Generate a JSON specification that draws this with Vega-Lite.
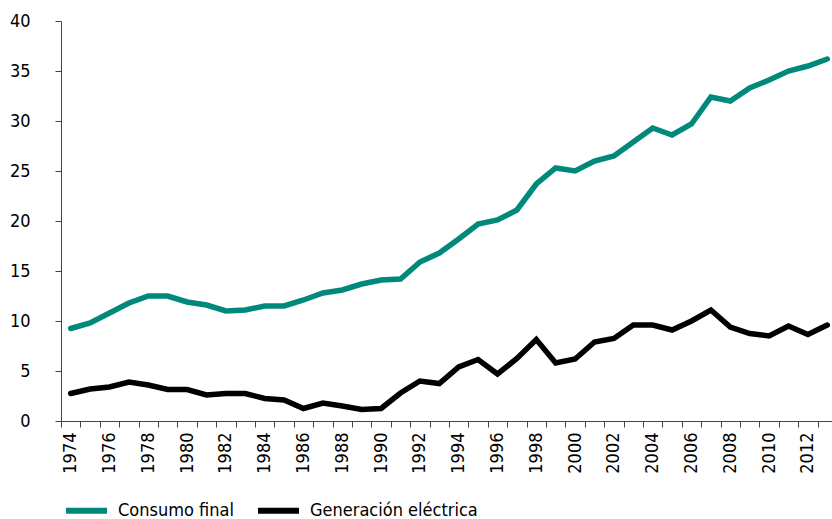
{
  "$schema": "https://vega.github.io/schema/vega-lite/v6.json",
  "width": 776,
  "height": 400,
  "autosize": {"type": "none"},
  "padding": {"left": 61, "top": 21, "right": 0, "bottom": 98},
  "background": "white",
  "config": {
    "view": {"stroke": null},
    "font": "Liberation Sans Narrow, DejaVu Sans Condensed, Liberation Sans, sans-serif"
  },
  "data": {"values": [
    {"year": 1974, "serie": "Consumo final", "value": 9.25},
    {"year": 1975, "serie": "Consumo final", "value": 9.8},
    {"year": 1976, "serie": "Consumo final", "value": 10.8},
    {"year": 1977, "serie": "Consumo final", "value": 11.8},
    {"year": 1978, "serie": "Consumo final", "value": 12.5},
    {"year": 1979, "serie": "Consumo final", "value": 12.5},
    {"year": 1980, "serie": "Consumo final", "value": 11.9},
    {"year": 1981, "serie": "Consumo final", "value": 11.6},
    {"year": 1982, "serie": "Consumo final", "value": 11.0},
    {"year": 1983, "serie": "Consumo final", "value": 11.1},
    {"year": 1984, "serie": "Consumo final", "value": 11.5},
    {"year": 1985, "serie": "Consumo final", "value": 11.5},
    {"year": 1986, "serie": "Consumo final", "value": 12.1},
    {"year": 1987, "serie": "Consumo final", "value": 12.8},
    {"year": 1988, "serie": "Consumo final", "value": 13.1},
    {"year": 1989, "serie": "Consumo final", "value": 13.7},
    {"year": 1990, "serie": "Consumo final", "value": 14.1},
    {"year": 1991, "serie": "Consumo final", "value": 14.2},
    {"year": 1992, "serie": "Consumo final", "value": 15.9},
    {"year": 1993, "serie": "Consumo final", "value": 16.8},
    {"year": 1994, "serie": "Consumo final", "value": 18.2},
    {"year": 1995, "serie": "Consumo final", "value": 19.7},
    {"year": 1996, "serie": "Consumo final", "value": 20.1},
    {"year": 1997, "serie": "Consumo final", "value": 21.1},
    {"year": 1998, "serie": "Consumo final", "value": 23.7},
    {"year": 1999, "serie": "Consumo final", "value": 25.3},
    {"year": 2000, "serie": "Consumo final", "value": 25.0},
    {"year": 2001, "serie": "Consumo final", "value": 26.0},
    {"year": 2002, "serie": "Consumo final", "value": 26.5},
    {"year": 2003, "serie": "Consumo final", "value": 27.9},
    {"year": 2004, "serie": "Consumo final", "value": 29.3},
    {"year": 2005, "serie": "Consumo final", "value": 28.6},
    {"year": 2006, "serie": "Consumo final", "value": 29.7},
    {"year": 2007, "serie": "Consumo final", "value": 32.4},
    {"year": 2008, "serie": "Consumo final", "value": 32.0},
    {"year": 2009, "serie": "Consumo final", "value": 33.3},
    {"year": 2010, "serie": "Consumo final", "value": 34.1},
    {"year": 2011, "serie": "Consumo final", "value": 35.0},
    {"year": 2012, "serie": "Consumo final", "value": 35.5},
    {"year": 2013, "serie": "Consumo final", "value": 36.2},
    {"year": 1974, "serie": "Generación eléctrica", "value": 2.75},
    {"year": 1975, "serie": "Generación eléctrica", "value": 3.2},
    {"year": 1976, "serie": "Generación eléctrica", "value": 3.4},
    {"year": 1977, "serie": "Generación eléctrica", "value": 3.9},
    {"year": 1978, "serie": "Generación eléctrica", "value": 3.6},
    {"year": 1979, "serie": "Generación eléctrica", "value": 3.15},
    {"year": 1980, "serie": "Generación eléctrica", "value": 3.15},
    {"year": 1981, "serie": "Generación eléctrica", "value": 2.6},
    {"year": 1982, "serie": "Generación eléctrica", "value": 2.75},
    {"year": 1983, "serie": "Generación eléctrica", "value": 2.75},
    {"year": 1984, "serie": "Generación eléctrica", "value": 2.25},
    {"year": 1985, "serie": "Generación eléctrica", "value": 2.1},
    {"year": 1986, "serie": "Generación eléctrica", "value": 1.25},
    {"year": 1987, "serie": "Generación eléctrica", "value": 1.8},
    {"year": 1988, "serie": "Generación eléctrica", "value": 1.5},
    {"year": 1989, "serie": "Generación eléctrica", "value": 1.15},
    {"year": 1990, "serie": "Generación eléctrica", "value": 1.25},
    {"year": 1991, "serie": "Generación eléctrica", "value": 2.8},
    {"year": 1992, "serie": "Generación eléctrica", "value": 4.0},
    {"year": 1993, "serie": "Generación eléctrica", "value": 3.75},
    {"year": 1994, "serie": "Generación eléctrica", "value": 5.4},
    {"year": 1995, "serie": "Generación eléctrica", "value": 6.15},
    {"year": 1996, "serie": "Generación eléctrica", "value": 4.7},
    {"year": 1997, "serie": "Generación eléctrica", "value": 6.25},
    {"year": 1998, "serie": "Generación eléctrica", "value": 8.15},
    {"year": 1999, "serie": "Generación eléctrica", "value": 5.8},
    {"year": 2000, "serie": "Generación eléctrica", "value": 6.2},
    {"year": 2001, "serie": "Generación eléctrica", "value": 7.9},
    {"year": 2002, "serie": "Generación eléctrica", "value": 8.25},
    {"year": 2003, "serie": "Generación eléctrica", "value": 9.6},
    {"year": 2004, "serie": "Generación eléctrica", "value": 9.6},
    {"year": 2005, "serie": "Generación eléctrica", "value": 9.1},
    {"year": 2006, "serie": "Generación eléctrica", "value": 10.0},
    {"year": 2007, "serie": "Generación eléctrica", "value": 11.1},
    {"year": 2008, "serie": "Generación eléctrica", "value": 9.4},
    {"year": 2009, "serie": "Generación eléctrica", "value": 8.75},
    {"year": 2010, "serie": "Generación eléctrica", "value": 8.5},
    {"year": 2011, "serie": "Generación eléctrica", "value": 9.5},
    {"year": 2012, "serie": "Generación eléctrica", "value": 8.65},
    {"year": 2013, "serie": "Generación eléctrica", "value": 9.6}
  ]},
  "mark": {"type": "line", "strokeWidth": 5.5, "strokeCap": "round", "strokeJoin": "miter"},
  "encoding": {
    "x": {
      "field": "year",
      "type": "ordinal",
      "bandPosition": 0.5,
      "scale": {"type": "band", "paddingInner": 0, "paddingOuter": 0},
      "axis": {
        "title": null,
        "tickBand": "extent",
        "labelExpr": "datum.value % 2 == 0 ? datum.label : ''",
        "labelAngle": 270,
        "labelAlign": "right",
        "labelBaseline": "middle",
        "labelFontSize": 18,
        "labelColor": "#000000",
        "labelPadding": 5,
        "tickSize": 6,
        "tickColor": "#444444",
        "domainColor": "#444444",
        "labelOverlap": false
      }
    },
    "y": {
      "field": "value",
      "type": "quantitative",
      "scale": {"domain": [0, 40], "nice": false},
      "axis": {
        "title": null,
        "values": [0, 5, 10, 15, 20, 25, 30, 35, 40],
        "grid": false,
        "labelFontSize": 18,
        "labelColor": "#000000",
        "labelPadding": 25,
        "tickSize": 6,
        "tickColor": "#444444",
        "domainColor": "#444444"
      }
    },
    "color": {
      "field": "serie",
      "type": "nominal",
      "scale": {"domain": ["Consumo final", "Generación eléctrica"], "range": ["#00897B", "#000000"]},
      "legend": {
        "title": null,
        "orient": "none",
        "legendX": 2,
        "legendY": 466,
        "direction": "horizontal",
        "symbolType": "stroke",
        "symbolSize": 1681,
        "symbolStrokeWidth": 6,
        "labelFontSize": 18,
        "labelColor": "#000000",
        "labelOffset": 8,
        "columnPadding": 12,
        "labelLimit": 300
      }
    }
  }
}
